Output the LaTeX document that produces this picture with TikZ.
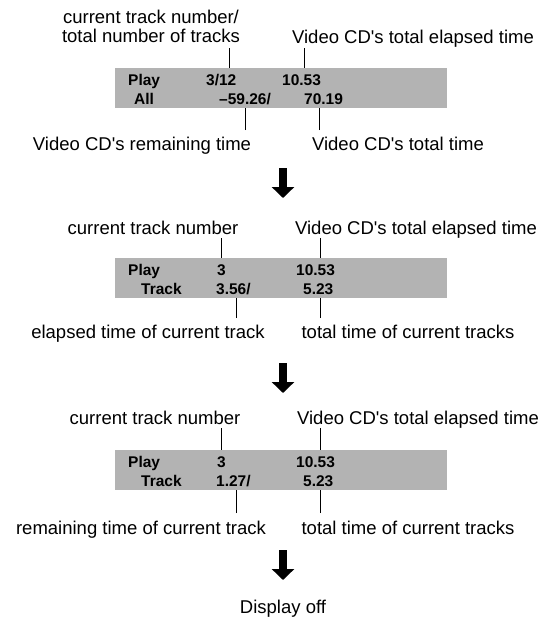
\documentclass[tikz,border=0pt]{standalone}
\usepackage{fontspec}
\setmainfont{Liberation Sans}
\usepackage{xcolor}
\usetikzlibrary{arrows.meta}
\definecolor{lcdgray}{RGB}{179,179,179}
\newcommand{\aps}{\textquotesingle}

\begin{document}
\begin{tikzpicture}[x=1pt,y=-1pt,
  lbl/.style={font=\fontsize{18.5}{19.5}\selectfont,inner sep=0pt,anchor=base,align=center},
  val/.style={font=\fontsize{15.5}{16}\selectfont\bfseries,inner sep=0pt,anchor=base west},
  lcd/.style={fill=lcdgray,anchor=north west,inner sep=0pt,minimum width=332pt,minimum height=40pt},
  lead/.style={line width=1pt},
  flow/.style={line width=8pt,-{Triangle[width=22pt,length=11pt]}}
]
\useasboundingbox (0,0) rectangle (553,619);

% first display: whole disc
\node[lbl] (cur1) at (151,42.5) {current track number/\\total number of tracks};
\node[lbl] (tot1) at (413,43) {Video CD\aps s total elapsed time};
\node[lcd] (lcd1) at (115,68) {};
\node[val] (p1) at (128,85.5) {Play};
\node[val] (n1) at (206,85.5) {3/12};
\node[val] (e1) at (282,85.5) {10.53};
\node[val] (a1) at (134,104.5) {All};
\node[val] (r1) at (219,104.5) {–59.26/};
\node[val] (t1) at (304,104.5) {70.19};
\node[lbl] (rem1) at (142,150) {Video CD\aps s remaining time};
\node[lbl] (len1) at (398,150) {Video CD\aps s total time};
\coordinate (u1a) at (229.6,48);
\coordinate (u1b) at (304,48);
\coordinate (d1a) at (245.5,130);
\coordinate (d1b) at (319.6,130);
\draw[lead] (u1a) -- (u1a |- lcd1.north);
\draw[lead] (u1b) -- (u1b |- lcd1.north);
\draw[lead] (d1a) -- (d1a |- lcd1.south);
\draw[lead] (d1b) -- (d1b |- lcd1.south);

\coordinate (f1) at (283,168);
\coordinate (g1) at (283,198);
\draw[flow] (f1) -- (g1);

% second display: elapsed time of track
\node[lbl] (cur2) at (153,234) {current track number};
\node[lbl] (tot2) at (416,234) {Video CD\aps s total elapsed time};
\node[lcd] (lcd2) at (115,257.5) {};
\node[val] (p2) at (128,275) {Play};
\node[val] (n2) at (217,275) {3};
\node[val] (e2) at (296,275) {10.53};
\node[val] (a2) at (141,294) {Track};
\node[val] (r2) at (216,294) {3.56/};
\node[val] (t2) at (303,294) {5.23};
\node[lbl] (el2) at (148,338) {elapsed time of current track};
\node[lbl] (len2) at (408,338) {total time of current tracks};
\coordinate (u2a) at (221,238);
\coordinate (u2b) at (320,238);
\coordinate (d2a) at (236,318);
\coordinate (d2b) at (320,318);
\draw[lead] (u2a) -- (u2a |- lcd2.north);
\draw[lead] (u2b) -- (u2b |- lcd2.north);
\draw[lead] (d2a) -- (d2a |- lcd2.south);
\draw[lead] (d2b) -- (d2b |- lcd2.south);

\coordinate (f2) at (283,363);
\coordinate (g2) at (283,393);
\draw[flow] (f2) -- (g2);

% third display: remaining time of track
\node[lbl] (cur3) at (155,424) {current track number};
\node[lbl] (tot3) at (418,424) {Video CD\aps s total elapsed time};
\node[lcd] (lcd3) at (115,450) {};
\node[val] (p3) at (128,467.5) {Play};
\node[val] (n3) at (217,467.5) {3};
\node[val] (e3) at (296,467.5) {10.53};
\node[val] (a3) at (141,486.5) {Track};
\node[val] (r3) at (216,486.5) {1.27/};
\node[val] (t3) at (303,486.5) {5.23};
\node[lbl] (rm3) at (141,534) {remaining time of current track};
\node[lbl] (len3) at (408,534) {total time of current tracks};
\coordinate (u3a) at (221,428);
\coordinate (u3b) at (320,428);
\coordinate (d3a) at (236.5,513);
\coordinate (d3b) at (320,513);
\draw[lead] (u3a) -- (u3a |- lcd3.north);
\draw[lead] (u3b) -- (u3b |- lcd3.north);
\draw[lead] (d3a) -- (d3a |- lcd3.south);
\draw[lead] (d3b) -- (d3b |- lcd3.south);

\coordinate (f3) at (283,550);
\coordinate (g3) at (283,580);
\draw[flow] (f3) -- (g3);

\node[lbl] (off) at (283,613) {Display off};
\end{tikzpicture}
\end{document}
